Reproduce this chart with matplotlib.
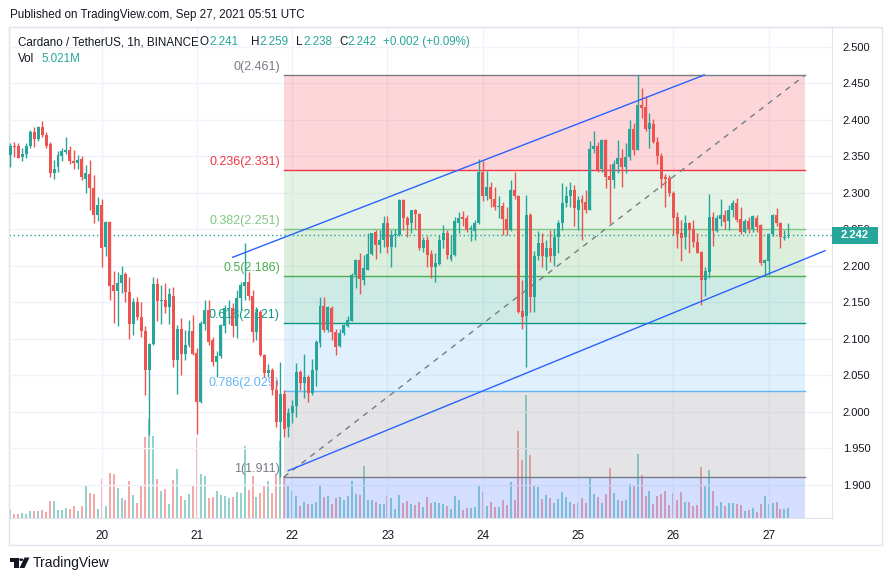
import numpy as np
import pandas as pd
import matplotlib
matplotlib.use("Agg")
import matplotlib.pyplot as plt
import matplotlib.dates as mdates
from matplotlib.patches import Rectangle, Polygon, Circle
from matplotlib.transforms import IdentityTransform

plt.rcParams["font.family"] = ["Liberation Sans", "DejaVu Sans"]

# ── Data (ADA/USDT 1h, Binance) ──────────────────────────────────────────────
first_bar = "2021-09-19 01:00"

opens = [
    2.352, 2.364, 2.364, 2.349, 2.353, 2.364, 2.383, 2.373, 2.390, 2.379, 2.367, 2.327,
    2.335, 2.351, 2.356, 2.358, 2.343, 2.341, 2.346, 2.319, 2.326, 2.307, 2.270,
    2.283, 2.226, 2.260, 2.174, 2.165, 2.176, 2.189, 2.164, 2.121, 2.150, 2.130, 2.111,
    2.057, 2.093, 2.175, 2.152, 2.153, 2.143, 2.159, 2.071, 2.114, 2.079, 2.092, 2.111,
    2.081, 2.014, 2.120, 2.140, 2.099, 2.069, 2.076, 2.118, 2.141, 2.142, 2.118, 2.156,
    2.172, 2.178, 2.159, 2.110, 2.137, 2.078, 2.053, 2.058, 2.030, 1.986, 2.025, 1.980,
    1.999, 2.008, 2.054, 2.039, 2.048, 2.026, 2.057, 2.094, 2.145, 2.112, 2.142, 2.110,
    2.090, 2.108, 2.117, 2.125, 2.188, 2.208, 2.181, 2.195, 2.216, 2.247, 2.228, 2.236,
    2.258, 2.226, 2.242, 2.242, 2.290, 2.266, 2.258, 2.276, 2.271, 2.225, 2.235, 2.216,
    2.198, 2.203, 2.235, 2.245, 2.210, 2.215, 2.259, 2.267, 2.265, 2.250, 2.248, 2.258,
    2.328, 2.296, 2.308, 2.292, 2.281, 2.282, 2.264, 2.249, 2.304, 2.296, 2.138, 2.132,
    2.270, 2.158, 2.213, 2.231, 2.212, 2.225, 2.213, 2.240, 2.258, 2.286, 2.295, 2.304,
    2.277, 2.291, 2.288, 2.277, 2.360, 2.364, 2.332, 2.372, 2.323, 2.317, 2.340, 2.347,
    2.335, 2.349, 2.388, 2.359, 2.420, 2.418, 2.388, 2.394, 2.370, 2.351, 2.322, 2.320,
    2.300, 2.267, 2.245, 2.240, 2.259, 2.251, 2.233, 2.219, 2.181, 2.192, 2.267, 2.248,
    2.264, 2.270, 2.262, 2.276, 2.286, 2.264, 2.247, 2.261, 2.251, 2.266, 2.256, 2.204,
    2.206, 2.243, 2.270, 2.259, 2.238, 2.241,
]
highs = [
    2.368, 2.369, 2.368, 2.361, 2.368, 2.386, 2.390, 2.391, 2.398, 2.383, 2.369, 2.345,
    2.357, 2.362, 2.376, 2.364, 2.358, 2.352, 2.350, 2.338, 2.345, 2.324, 2.294,
    2.292, 2.262, 2.262, 2.193, 2.191, 2.200, 2.192, 2.185, 2.156, 2.158, 2.150, 2.117,
    2.095, 2.185, 2.184, 2.174, 2.177, 2.169, 2.171, 2.119, 2.128, 2.112, 2.126, 2.133,
    2.087, 2.124, 2.153, 2.153, 2.103, 2.083, 2.121, 2.146, 2.153, 2.149, 2.167, 2.178,
    2.231, 2.191, 2.167, 2.144, 2.139, 2.080, 2.066, 2.060, 2.044, 2.069, 2.030, 2.005,
    2.016, 2.067, 2.058, 2.080, 2.050, 2.073, 2.099, 2.158, 2.158, 2.145, 2.145, 2.114,
    2.114, 2.120, 2.131, 2.190, 2.210, 2.217, 2.215, 2.245, 2.245, 2.249, 2.249, 2.268,
    2.268, 2.249, 2.250, 2.291, 2.291, 2.268, 2.277, 2.278, 2.273, 2.240, 2.241, 2.222,
    2.217, 2.242, 2.256, 2.249, 2.242, 2.267, 2.274, 2.275, 2.270, 2.256, 2.263, 2.346,
    2.344, 2.330, 2.315, 2.308, 2.295, 2.288, 2.281, 2.318, 2.329, 2.297, 2.181, 2.297,
    2.272, 2.220, 2.248, 2.245, 2.235, 2.249, 2.250, 2.263, 2.313, 2.309, 2.315, 2.311,
    2.295, 2.297, 2.304, 2.371, 2.384, 2.370, 2.373, 2.373, 2.340, 2.345, 2.372, 2.360,
    2.368, 2.400, 2.395, 2.461, 2.444, 2.432, 2.409, 2.401, 2.377, 2.354, 2.326, 2.324,
    2.302, 2.274, 2.263, 2.270, 2.260, 2.263, 2.245, 2.221, 2.199, 2.298, 2.274, 2.270,
    2.291, 2.276, 2.283, 2.290, 2.293, 2.280, 2.264, 2.267, 2.270, 2.270, 2.257, 2.210,
    2.245, 2.271, 2.279, 2.260, 2.249, 2.259,
]
lows = [
    2.336, 2.349, 2.347, 2.344, 2.348, 2.362, 2.363, 2.371, 2.376, 2.361, 2.322, 2.319,
    2.329, 2.344, 2.353, 2.339, 2.333, 2.333, 2.318, 2.300, 2.276, 2.259, 2.262,
    2.199, 2.214, 2.153, 2.122, 2.117, 2.163, 2.150, 2.100, 2.106, 2.126, 2.103, 2.023,
    1.968, 2.092, 2.124, 2.121, 2.135, 2.121, 2.061, 2.025, 2.051, 2.071, 2.089, 2.078,
    1.970, 2.012, 2.112, 2.092, 2.063, 2.048, 2.074, 2.108, 2.121, 2.103, 2.101, 2.140,
    2.153, 2.153, 2.096, 2.099, 2.076, 2.048, 2.048, 2.023, 1.980, 1.911, 1.966, 1.966,
    1.985, 1.993, 2.030, 2.019, 2.014, 2.023, 2.035, 2.089, 2.110, 2.110, 2.098, 2.078,
    2.089, 2.105, 2.116, 2.125, 2.169, 2.162, 2.174, 2.194, 2.215, 2.210, 2.217, 2.226,
    2.218, 2.199, 2.226, 2.241, 2.249, 2.240, 2.245, 2.251, 2.222, 2.219, 2.198, 2.184,
    2.178, 2.201, 2.224, 2.210, 2.206, 2.214, 2.245, 2.255, 2.247, 2.234, 2.236, 2.257,
    2.289, 2.290, 2.281, 2.276, 2.265, 2.242, 2.242, 2.248, 2.291, 2.135, 2.114, 2.062,
    2.137, 2.137, 2.208, 2.198, 2.195, 2.205, 2.200, 2.217, 2.249, 2.281, 2.281, 2.254,
    2.249, 2.235, 2.272, 2.277, 2.355, 2.329, 2.329, 2.307, 2.258, 2.307, 2.327, 2.308,
    2.327, 2.345, 2.352, 2.358, 2.402, 2.384, 2.361, 2.368, 2.340, 2.307, 2.281, 2.296,
    2.242, 2.224, 2.207, 2.223, 2.218, 2.226, 2.217, 2.146, 2.159, 2.184, 2.227, 2.247,
    2.254, 2.251, 2.249, 2.267, 2.260, 2.244, 2.245, 2.245, 2.247, 2.247, 2.201, 2.188,
    2.187, 2.241, 2.254, 2.224, 2.236, 2.238,
]
closes = [
    2.364, 2.363, 2.348, 2.353, 2.364, 2.383, 2.374, 2.390, 2.379, 2.364, 2.327, 2.333,
    2.352, 2.357, 2.358, 2.343, 2.341, 2.345, 2.321, 2.327, 2.306, 2.270, 2.283,
    2.225, 2.260, 2.173, 2.165, 2.176, 2.188, 2.164, 2.121, 2.150, 2.130, 2.111, 2.057,
    2.093, 2.175, 2.152, 2.153, 2.143, 2.161, 2.071, 2.114, 2.079, 2.092, 2.111, 2.079,
    2.014, 2.122, 2.140, 2.096, 2.069, 2.077, 2.119, 2.142, 2.142, 2.117, 2.156, 2.174,
    2.178, 2.159, 2.109, 2.137, 2.078, 2.053, 2.058, 2.030, 1.986, 2.025, 1.977, 1.999,
    2.008, 2.055, 2.040, 2.048, 2.026, 2.057, 2.096, 2.145, 2.112, 2.143, 2.110, 2.089,
    2.108, 2.119, 2.126, 2.188, 2.208, 2.182, 2.197, 2.216, 2.245, 2.228, 2.236, 2.258,
    2.226, 2.242, 2.244, 2.290, 2.266, 2.256, 2.276, 2.271, 2.224, 2.235, 2.215, 2.198,
    2.204, 2.235, 2.245, 2.215, 2.215, 2.261, 2.266, 2.264, 2.249, 2.251, 2.258, 2.328,
    2.296, 2.308, 2.292, 2.281, 2.282, 2.264, 2.249, 2.304, 2.295, 2.137, 2.130, 2.270,
    2.157, 2.213, 2.231, 2.213, 2.225, 2.213, 2.240, 2.258, 2.286, 2.296, 2.304, 2.279,
    2.290, 2.286, 2.277, 2.360, 2.364, 2.331, 2.372, 2.322, 2.317, 2.340, 2.347, 2.335,
    2.349, 2.388, 2.359, 2.420, 2.416, 2.388, 2.396, 2.370, 2.351, 2.319, 2.319, 2.300,
    2.265, 2.244, 2.238, 2.259, 2.249, 2.232, 2.218, 2.181, 2.193, 2.267, 2.248, 2.265,
    2.270, 2.260, 2.277, 2.286, 2.263, 2.247, 2.261, 2.250, 2.268, 2.253, 2.204, 2.208,
    2.244, 2.270, 2.258, 2.239, 2.240, 2.242,
]
volumes = [  # millions ADA
    4.2, 1.9, 1.9, 2.2, 1.7, 3.4, 3.5, 3.5, 3.9, 3.0, 8.4, 8.4,
    3.9, 3.9, 4.9, 4.5, 5.9, 3.5, 5.9, 15.9, 12.2, 11.9, 4.2,
    19.4, 5.9, 22.4, 21.9, 14.9, 9.9, 8.9, 18.2, 11.2, 7.4, 16.4, 40.5,
    49.2, 40.9, 19.4, 13.5, 14.2, 6.9, 18.9, 24.2, 10.9, 8.9, 11.9, 15.9,
    39.7, 21.7, 20.9, 10.0, 10.5, 13.4, 11.2, 10.9, 9.9, 10.2, 12.7, 12.4,
    35.9, 13.7, 20.9, 10.5, 12.5, 16.2, 18.4, 12.5, 21.7, 38.5, 20.7, 15.9,
    13.5, 10.9, 5.9, 8.0, 6.9, 6.9, 8.0, 15.9, 10.5, 10.7, 6.9, 10.0,
    10.2, 8.7, 10.9, 18.2, 12.0, 11.4, 25.9, 8.9, 8.9, 7.9, 6.9, 6.9,
    10.9, 10.0, 4.5, 11.4, 7.2, 8.4, 6.9, 6.4, 7.9, 5.4, 10.4, 7.4,
    7.9, 7.4, 6.9, 5.9, 4.4, 10.9, 8.9, 3.9, 4.9, 4.9, 5.4, 15.9,
    12.9, 5.9, 7.9, 5.4, 5.4, 8.9, 6.4, 17.9, 8.9, 43.4, 28.9, 61.4,
    31.4, 15.9, 15.4, 9.4, 11.4, 9.9, 7.4, 9.4, 12.9, 10.4, 7.9, 6.9,
    7.4, 9.9, 7.4, 20.2, 11.9, 10.4, 7.4, 11.9, 24.9, 12.4, 8.9, 8.4,
    8.9, 16.9, 16.4, 31.9, 21.4, 10.9, 13.4, 6.9, 10.9, 11.9, 13.4, 6.4,
    12.4, 8.9, 12.9, 7.9, 7.9, 5.9, 6.4, 25.4, 16.4, 23.9, 13.4, 5.9,
    7.9, 5.9, 7.4, 7.4, 6.9, 6.4, 3.4, 3.9, 4.9, 2.9, 6.9, 10.9,
    6.9, 7.4, 7.9, 4.4, 4.4, 5.021,
]

# Fibonacci retracement drawing
fib_high, fib_low = 2.461, 1.911
fib_ratios = [0, 0.236, 0.382, 0.5, 0.618, 0.786, 1, 1.618]
fib_colors = ["#787b86", "#f23645", "#81c784", "#4caf50", "#089981", "#64b5f6", "#787b86", "#2962ff"]
fib_start, fib_end = "2021-09-21 21:55", "2021-09-27 09:10"

# channel lines drawn on the chart
upper_line = [("2021-09-21 09:00", 2.2117), ("2021-09-26 07:48", 2.4613)]
lower_line = [("2021-09-21 23:00", 1.9196), ("2021-09-27 14:12", 2.2207)]

price_ticks = [1.90, 1.95, 2.00, 2.05, 2.10, 2.15, 2.20, 2.25, 2.30, 2.35, 2.40, 2.45, 2.50]
day_ticks = ["2021-09-20", "2021-09-21", "2021-09-22", "2021-09-23",
             "2021-09-24", "2021-09-25", "2021-09-26", "2021-09-27"]
view_start, view_end = "2021-09-19 00:44", "2021-09-27 15:54"
price_range = (1.8552, 2.5277)
vol_range = (0, 245.6)

# ── Colors ────────────────────────────────────────────────────────────────────
UP = "#26a69a"
DOWN = "#ef5350"
TEXT = "#131722"
FRAME = "#e0e3eb"
GRID = "#f0f3fa"

W, H = 892, 581
HEAD_FS = 8.4


def fx(px):
    return px / W


def fy(py):
    return 1 - py / H


times = mdates.date2num(pd.date_range(first_bar, periods=len(opens), freq="h"))
o, h, l, c = map(np.array, (opens, highs, lows, closes))
up = c >= o
colors = np.where(up, UP, DOWN)
hour = 1 / 24

fig = plt.figure(figsize=(W / 100, H / 100), dpi=100)
renderer = fig.canvas.get_renderer()
rect = [fx(9.3), fy(517.7), (831.7 - 9.3) / W, (517.7 - 26.5) / H]

# volume pane underneath
ax_vol = fig.add_axes(rect)
ax_vol.bar(times, volumes, width=0.5 * hour, color=colors, alpha=0.5, linewidth=0)
ax_vol.set_ylim(*vol_range)
ax_vol.set_xlim(mdates.datestr2num(view_start), mdates.datestr2num(view_end))
ax_vol.axis("off")

ax = fig.add_axes(rect)
ax.set_zorder(1)
ax.patch.set_visible(False)
ax.set_xlim(mdates.datestr2num(view_start), mdates.datestr2num(view_end))
ax.set_ylim(*price_range)

# grid / axes
ax.set_yticks(price_ticks)
ax.set_yticklabels([f"{p:.3f}" for p in price_ticks])
ax.set_xticks(mdates.datestr2num(day_ticks))
ax.set_xticklabels([d[-2:] for d in day_ticks])
ax.grid(True, color=GRID, linewidth=1)
ax.set_axisbelow(True)
ax.yaxis.tick_right()
ax.tick_params(axis="y", length=0, pad=8, labelsize=8, labelcolor=TEXT)
ax.tick_params(axis="x", length=0, pad=9, labelsize=8.5, labelcolor=TEXT)
for sp in ax.spines.values():
    sp.set_color(FRAME)

# fib retracement
f0, f1 = mdates.datestr2num(fib_start), mdates.datestr2num(fib_end)
levels = [fib_high - r * (fib_high - fib_low) for r in fib_ratios]
for i in range(1, len(levels)):
    ax.fill_between([f0, f1], levels[i - 1], levels[i], color=fib_colors[i],
                    alpha=0.2, linewidth=0, zorder=1)
for r, lv, col in zip(fib_ratios, levels, fib_colors):
    if lv < price_range[0]:
        continue
    ax.plot([f0, f1], [lv, lv], color=col, lw=1, zorder=1.5)
    ax.annotate(f"{r:g}({lv:.3f})", xy=(f0, lv), xytext=(-3, 1.5), textcoords="offset points",
                ha="right", va="bottom", fontsize=9, color=col, zorder=1.6)
ax.plot([f0, f1], [fib_low, fib_high], color="#787b86", lw=1, ls=(0, (4, 4)), zorder=1.7)

# candles
ax.vlines(times, l, h, colors=colors, lw=1, zorder=3)
body = np.maximum(np.abs(c - o), 0.0012)
ax.bar(times, body, bottom=np.minimum(o, c), width=0.75 * hour, color=colors,
       linewidth=0, zorder=3.1)

# channel
for seg in (upper_line, lower_line):
    ax.plot(mdates.datestr2num([seg[0][0], seg[1][0]]), [seg[0][1], seg[1][1]],
            color="#2962ff", lw=1, zorder=4)

# last price
last = c[-1]
ax.axhline(last, color=UP, lw=1, ls=(0, (1, 2)), zorder=2)
_, ypx = ax.transData.transform((times[-1], last))
fig.add_artist(Rectangle((831.7, ypx - 8.5), 46.6, 17, transform=IdentityTransform(),
                         facecolor=UP, edgecolor="none", zorder=5))
fig.text(fx(855), ypx / H, f"{last:.3f}", ha="center", va="center", color="white",
         fontsize=8, fontweight="bold", zorder=6)

# outer frame
fig.add_artist(Rectangle((fx(9.3), fy(545)), fx(882) - fx(9.3), fy(26.5) - fy(545),
                         transform=fig.transFigure, fill=False, edgecolor=FRAME, lw=1))

# header texts
fig.text(fx(10), fy(15), "Published on TradingView.com, Sep 27, 2021 05:51 UTC",
         fontsize=HEAD_FS, va="center", color=TEXT)
fig.text(fx(18.3), fy(42.3), "Cardano / TetherUS, 1h, BINANCE",
         fontsize=HEAD_FS, va="center", color=TEXT)
chg = c[-1] - c[-2]
ohlc_items = [("O", o[-1], 199.5), ("H", h[-1], 250.5), ("L", l[-1], 296), ("C", c[-1], 339)]
for letter, val, px in ohlc_items:
    t = fig.text(fx(px), fy(42.3), letter, fontsize=HEAD_FS, va="center", color=TEXT)
    wpx = t.get_window_extent(renderer).width
    fig.text(fx(px + wpx + 0.5), fy(42.3), f"{val:.3f}", fontsize=HEAD_FS, va="center", color=UP)
fig.text(fx(383), fy(42.3), f"{chg:+.3f} ({chg / c[-2] * 100:+.2f}%)",
         fontsize=HEAD_FS, va="center", color=UP)
fig.text(fx(18.3), fy(59.3), "Vol", fontsize=HEAD_FS, va="center", color=TEXT)
fig.text(fx(41.7), fy(59.3), f"{volumes[-1]:.3f}M", fontsize=HEAD_FS, va="center", color=UP)

# TradingView logo
fig.add_artist(Polygon([(fx(10), fy(557.5)), (fx(18.5), fy(557.5)), (fx(18.5), fy(568)),
                        (fx(14.5), fy(568)), (fx(14.5), fy(561.5)), (fx(10), fy(561.5))],
                       closed=True, transform=fig.transFigure, facecolor=TEXT, edgecolor="none"))
fig.add_artist(Circle((fx(21.2), fy(559.7)), 2.0 / W, transform=fig.transFigure,
                      facecolor=TEXT, edgecolor="none"))
fig.add_artist(Polygon([(fx(24.5), fy(557.5)), (fx(29.5), fy(557.5)), (fx(24.5), fy(568)),
                        (fx(19.5), fy(568))],
                       closed=True, transform=fig.transFigure, facecolor=TEXT, edgecolor="none"))
fig.text(fx(33), fy(563), "TradingView", fontsize=10, va="center", color=TEXT)

fig.savefig("out.png", dpi=100)
